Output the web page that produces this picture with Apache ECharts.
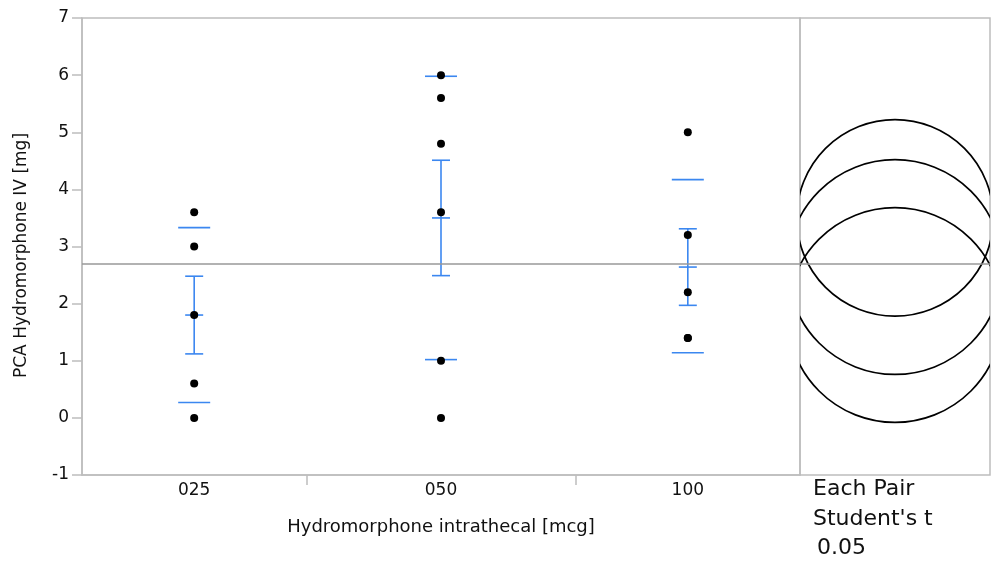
<!DOCTYPE html>
<html>
<head>
<meta charset="utf-8">
<script src="https://cdn.jsdelivr.net/npm/echarts@6/dist/echarts.min.js"></script>
<style>
html,body{margin:0;padding:0;background:#fff;}
#chart{width:995px;height:561px;}
</style>
</head>
<body>
<div id="chart"></div>
<script>
// ---- data ----
var groups = ['025', '050', '100'];
var groupCounts = [5, 6, 5];
var values025 = [3.6, 3.0, 1.8, 0.6, 0.0];
var values050 = [6.0, 5.6, 4.8, 3.6, 1.0, 0.0];
var values100 = [5.0, 3.2, 2.2, 1.4, 1.4];
var means = [1.80, 3.50, 2.64];
var errLow = [1.12, 2.49, 1.97];
var errHigh = [2.48, 4.51, 3.31];
var sdLow = [0.27, 1.02, 1.14];
var sdHigh = [3.33, 5.98, 4.17];
var grandMean = 2.70;
var circleRadius = [1.88, 1.72, 1.88];
var yTicks = [-1, 0, 1, 2, 3, 4, 5, 6, 7];
var compTitle = ['Each Pair', "Student's t", '0.05'];

// ---- derived positions (proportional x axis) ----
var total = groupCounts.reduce(function (a, b) { return a + b; }, 0);
var centers = [], bounds = [], acc = 0;
groupCounts.forEach(function (n, i) {
  centers.push(acc + n / 2);
  acc += n;
  if (i < groupCounts.length - 1) bounds.push(acc);
});
var groupValues = [values025, values050, values100];
var points = [];
groupValues.forEach(function (arr, i) {
  arr.forEach(function (v) { points.push([centers[i], v]); });
});
var statData = groups.map(function (g, i) {
  return [centers[i], means[i], errLow[i], errHigh[i], sdLow[i], sdHigh[i]];
});
var circleOrder = [1, 2, 0];
var circleData = circleOrder.map(function (i) { return [0, means[i], circleRadius[i]]; });

var GRAY = '#bdbdbd';
var BLUE = '#3b87f0';
var FONT = '"DejaVu Sans", Verdana, sans-serif';

var chart = echarts.init(document.getElementById('chart'));
chart.setOption({
  animation: false,
  backgroundColor: '#fff',
  grid: [
    { left: 82, top: 18, width: 718, height: 457, show: true, borderColor: GRAY, borderWidth: 1.5, containLabel: false },
    { left: 800, top: 18, width: 190, height: 457, show: true, borderColor: GRAY, borderWidth: 1.5, containLabel: false }
  ],
  xAxis: [
    {
      type: 'value', gridIndex: 0, min: 0, max: total,
      axisLine: { show: true, onZero: false, lineStyle: { color: GRAY, width: 1.5 } },
      axisTick: { show: true, length: 10, customValues: bounds, lineStyle: { color: GRAY, width: 1.5 } },
      axisLabel: {
        customValues: centers, margin: 7, color: '#111', fontSize: 17, fontFamily: FONT,
        formatter: function (v) {
          for (var i = 0; i < centers.length; i++) if (Math.abs(centers[i] - v) < 1e-6) return groups[i];
          return '';
        }
      },
      splitLine: { show: false },
      name: 'Hydromorphone intrathecal [mcg]', nameLocation: 'middle', nameGap: 43,
      nameTextStyle: { color: '#111', fontSize: 18, fontFamily: FONT }
    },
    {
      type: 'value', gridIndex: 1, min: -1, max: 1, show: false
    }
  ],
  yAxis: [
    {
      type: 'value', gridIndex: 0, min: yTicks[0], max: yTicks[yTicks.length - 1], interval: 1,
      axisLine: { show: true, onZero: false, lineStyle: { color: GRAY, width: 1.5 } },
      axisTick: { show: true, length: 10, lineStyle: { color: GRAY, width: 1.5 } },
      axisLabel: { margin: 13, color: '#111', fontSize: 17, fontFamily: FONT },
      splitLine: { show: false },
      name: 'PCA Hydromorphone IV [mg]', nameLocation: 'middle', nameGap: 52, nameRotate: 90,
      nameTextStyle: { color: '#111', fontSize: 17, fontFamily: FONT, padding: [0, 18, 0, 0] }
    },
    {
      type: 'value', gridIndex: 1, min: yTicks[0], max: yTicks[yTicks.length - 1], show: false
    }
  ],
  series: [
    {
      type: 'line', xAxisIndex: 0, yAxisIndex: 0, data: [], silent: true,
      markLine: {
        silent: true, symbol: 'none', label: { show: false },
        lineStyle: { color: '#999', width: 1.5, type: 'solid' },
        data: [{ yAxis: grandMean }]
      }
    },
    {
      type: 'line', xAxisIndex: 1, yAxisIndex: 1, data: [], silent: true,
      markLine: {
        silent: true, symbol: 'none', label: { show: false },
        lineStyle: { color: '#999', width: 1.5, type: 'solid' },
        data: [{ yAxis: grandMean }]
      }
    },
    {
      type: 'custom', xAxisIndex: 0, yAxisIndex: 0, data: statData, silent: true, z: 3,
      renderItem: function (params, api) {
        var pm = api.coord([api.value(0), api.value(1)]);
        var pLo = api.coord([api.value(0), api.value(2)]);
        var pHi = api.coord([api.value(0), api.value(3)]);
        var sLo = api.coord([api.value(0), api.value(4)]);
        var sHi = api.coord([api.value(0), api.value(5)]);
        var cx = pm[0];
        var st = { stroke: BLUE, lineWidth: 1.6, fill: null };
        function ln(x1, y1, x2, y2) { return { type: 'line', shape: { x1: x1, y1: y1, x2: x2, y2: y2 }, style: st }; }
        return {
          type: 'group',
          children: [
            ln(cx, pLo[1], cx, pHi[1]),
            ln(cx - 9, pLo[1], cx + 9, pLo[1]),
            ln(cx - 9, pHi[1], cx + 9, pHi[1]),
            ln(cx - 9, pm[1], cx + 9, pm[1]),
            ln(cx - 16, sLo[1], cx + 16, sLo[1]),
            ln(cx - 16, sHi[1], cx + 16, sHi[1])
          ]
        };
      }
    },
    {
      type: 'scatter', xAxisIndex: 0, yAxisIndex: 0, data: points, z: 5,
      symbol: 'circle', symbolSize: 8, itemStyle: { color: '#000', opacity: 1 }, silent: true
    },
    {
      type: 'custom', xAxisIndex: 1, yAxisIndex: 1, data: circleData, silent: true, z: 4,
      renderItem: function (params, api) {
        var c = api.coord([api.value(0), api.value(1)]);
        var r = api.size([0, api.value(2)])[1];
        var cs = params.coordSys;
        return {
          type: 'circle',
          shape: { cx: c[0], cy: c[1], r: r },
          style: { stroke: '#000', lineWidth: 1.7, fill: null },
          clipPath: { type: 'rect', shape: { x: cs.x, y: cs.y, width: cs.width, height: cs.height } }
        };
      }
    }
  ],
  graphic: [
    { type: 'text', left: 813, top: 478, style: { text: compTitle[0], fill: '#111', font: '22px ' + FONT } },
    { type: 'text', left: 813, top: 508, style: { text: compTitle[1], fill: '#111', font: '22px ' + FONT } },
    { type: 'text', left: 817, top: 537, style: { text: compTitle[2], fill: '#111', font: '22px ' + FONT } }
  ]
});
</script>
</body>
</html>
